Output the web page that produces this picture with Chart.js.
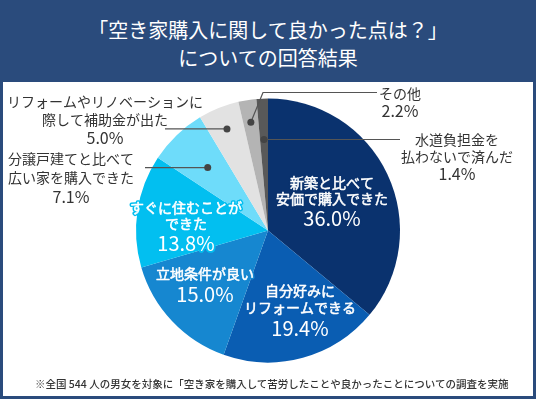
<!DOCTYPE html>
<html lang="ja">
<head>
<meta charset="utf-8">
<script src="https://cdn.jsdelivr.net/npm/chart.js@4.4.1/dist/chart.umd.min.js"></script>
<style>
  html, body { margin: 0; padding: 0; }
  body {
    width: 536px; height: 399px; overflow: hidden;
    background: #2a4b7c; position: relative;
    font-family: "Noto Sans CJK JP", "Noto Sans", sans-serif;
  }
  .title {
    position: absolute; left: 0; top: 16px; width: 536px;
    color: #fff; font-size: 20px; line-height: 28px; text-align: center;
  }
  .panel {
    position: absolute; left: 3px; top: 82px; width: 530px; height: 314px;
    background: #fff;
  }
  .note {
    position: absolute; left: 35px; top: 376px;
    font-size: 10.5px; color: #333; font-weight: 500; white-space: nowrap;
  }
  canvas { position: absolute; left: 0; top: 0; }
</style>
</head>
<body>
<div class="title">「空き家購入に関して良かった点は？」<br>についての回答結果</div>
<div class="panel"></div>
<canvas id="grafico" width="536" height="399"></canvas>
<div class="note">※全国 544 人の男女を対象に「空き家を購入して苦労したことや良かったことについての調査を実施</div>

<script>
// --- DADOS ---
const categorias = [
  ['新築と比べて', '安価で購入できた'],
  ['自分好みに', 'リフォームできる'],
  ['立地条件が良い'],
  ['すぐに住むことが', 'できた'],
  ['分譲戸建てと比べて', '広い家を購入できた'],
  ['リフォームやリノベーションに', '際して補助金が出た'],
  ['その他'],
  ['水道負担金を', '払わないで済んだ']
];
const valores = [36.0, 19.4, 15.0, 13.8, 7.1, 5.0, 2.2, 1.4];
const rotulosPct = ['36.0%', '19.4%', '15.0%', '13.8%', '7.1%', '5.0%', '2.2%', '1.4%'];
const cores = ['#0a326e', '#0a5db2', '#1687d0', '#02bff0', '#6edcfa', '#e2e2e2', '#b4b4b4', '#595959'];

// --- LAYOUT DOS RÓTULOS (deslocamentos a partir do centro do gráfico) ---
const rotulosInternos = {
  0: { dx: 64, ys: [-48, -32, -12] },
  1: { dx: 32, ys: [60, 77, 98] },
  2: { dx: -63, ys: [43, 64] },
  3: { dx: -82, ys: [-23, -7, 13] }
};
const rotulosExternos = {
  4: { dx: -197, ys: [-72, -53, -34], raio: 0.66, linhaAte: -123 },
  5: { dx: -163, ys: [-129, -111, -93], raio: 0.83, linhaAte: -103 },
  6: { dx: 132, ys: [-137, -120], raio: 0.83, cotovelo: [-5, -138], linhaAte: 109 },
  7: { dx: 189, ys: [-91, -74, -57], raio: 0.69, linhaAte: 132 }
};

const FONTE = '"Noto Sans CJK JP", "Noto Sans", sans-serif';

function pontoNoArco(arc, frac) {
  const meio = (arc.startAngle + arc.endAngle) / 2;
  return {
    x: arc.x + Math.cos(meio) * arc.outerRadius * frac,
    y: arc.y + Math.sin(meio) * arc.outerRadius * frac
  };
}

const pluginRotulos = {
  id: 'rotulos',
  afterDatasetsDraw(chart) {
    const ctx = chart.ctx;
    const arcs = chart.getDatasetMeta(0).data;
    const cx = arcs[0].x, cy = arcs[0].y;
    ctx.save();
    ctx.textAlign = 'center';
    ctx.textBaseline = 'middle';
    ctx.lineJoin = 'round';

    // rótulos dentro das fatias
    Object.keys(rotulosInternos).forEach(k => {
      const i = Number(k);
      const cfg = rotulosInternos[i];
      const linhas = categorias[i].concat([rotulosPct[i]]);
      linhas.forEach((txt, j) => {
        const ehPct = j === linhas.length - 1;
        ctx.font = (ehPct ? '20px ' : '14px ') + FONTE;
        const x = cx + cfg.dx, y = cy + cfg.ys[j];
        ctx.strokeStyle = cores[i];
        ctx.lineWidth = 3.5;
        ctx.strokeText(txt, x, y);
        ctx.fillStyle = '#ffffff';
        ctx.fillText(txt, x, y);
        if (!ehPct) {
          ctx.strokeStyle = '#ffffff';
          ctx.lineWidth = 0.5;
          ctx.strokeText(txt, x, y);
        }
      });
    });

    // rótulos externos com linhas de chamada
    Object.keys(rotulosExternos).forEach(k => {
      const i = Number(k);
      const cfg = rotulosExternos[i];
      const p = pontoNoArco(arcs[i].getProps(['x', 'y', 'startAngle', 'endAngle', 'outerRadius'], true), cfg.raio);

      ctx.strokeStyle = '#555';
      ctx.lineWidth = 1.2;
      ctx.beginPath();
      ctx.moveTo(p.x, p.y);
      if (cfg.cotovelo) {
        ctx.lineTo(cx + cfg.cotovelo[0], cy + cfg.cotovelo[1]);
        ctx.lineTo(cx + cfg.linhaAte, cy + cfg.cotovelo[1]);
      } else {
        ctx.lineTo(cx + cfg.linhaAte, p.y);
      }
      ctx.stroke();

      ctx.fillStyle = '#444';
      ctx.beginPath();
      ctx.arc(p.x, p.y, 3.5, 0, Math.PI * 2);
      ctx.fill();

      const linhas = categorias[i].concat([rotulosPct[i]]);
      linhas.forEach((txt, j) => {
        const ehPct = j === linhas.length - 1;
        ctx.font = (ehPct ? '16px ' : '14px ') + FONTE;
        ctx.fillStyle = '#333';
        ctx.fillText(txt, cx + cfg.dx, cy + cfg.ys[j]);
      });
    });
    ctx.restore();
  }
};

new Chart(document.getElementById('grafico'), {
  type: 'pie',
  data: {
    labels: categorias.map(c => c.join('')),
    datasets: [{
      data: valores,
      backgroundColor: cores,
      borderWidth: 0
    }]
  },
  options: {
    responsive: false,
    animation: false,
    devicePixelRatio: 1,
    layout: { padding: { left: 136, right: 136, top: 98, bottom: 36 } },
    plugins: {
      legend: { display: false },
      tooltip: { enabled: false }
    }
  },
  plugins: [pluginRotulos]
});
</script>
</body>
</html>
